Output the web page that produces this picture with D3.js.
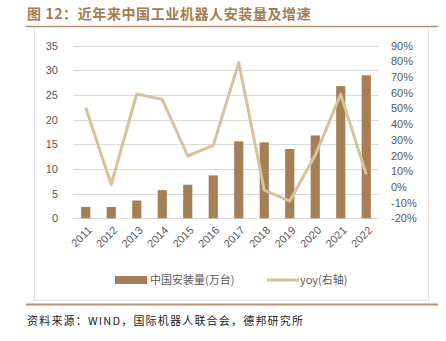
<!DOCTYPE html>
<html><head><meta charset="utf-8">
<script src="https://cdn.jsdelivr.net/npm/d3@7"></script>
<style>body{margin:0;background:#fff;}svg{display:block;}</style>
</head><body>
<svg id="c" width="446" height="341"></svg>
<script>
const years = ["2011","2012","2013","2014","2015","2016","2017","2018","2019","2020","2021","2022"];
const installs = [2.3, 2.3, 3.6, 5.7, 6.8, 8.7, 15.6, 15.4, 14.05, 16.8, 26.8, 29.0];
const yoy = [50.5, 1.6, 59.2, 55.8, 19.7, 26.5, 79.2, -2, -9, 20.3, 59, 8];
const leftTicks = [0,5,10,15,20,25,30,35];
const rightTicks = [-20,-10,0,10,20,30,40,50,60,70,80,90];
const title = "图 12：近年来中国工业机器人安装量及增速";
const source = "资料来源：WIND，国际机器人联合会，德邦研究所";
const legendLabels = ["中国安装量(万台)", "yoy(右轴)"];

const svg = d3.select("#c");
const font = "'Noto Sans CJK SC','Liberation Sans',sans-serif";
const barColor = "#a67f56", lineColor = "#d5c39b", titleColor = "#a47a50", rule = "#b59273";

// title
svg.append("text").attr("x",27).attr("y",19).attr("font-family",font).attr("font-size",14)
  .attr("font-weight","bold").attr("letter-spacing","0.6px").attr("fill",titleColor).text(title);
svg.append("line").attr("x1",26).attr("x2",438).attr("y1",26.5).attr("y2",26.5).attr("stroke",rule).attr("stroke-width",1.5);
// box
svg.append("rect").attr("x",34.5).attr("y",27.5).attr("width",394).attr("height",273).attr("fill","#fff").attr("stroke","#e2e2e2");
svg.append("line").attr("x1",26).attr("x2",438).attr("y1",304.5).attr("y2",304.5).attr("stroke",rule).attr("stroke-width",2);
svg.append("text").attr("x",27).attr("y",325).attr("font-family",font).attr("font-size",11)
  .attr("letter-spacing","1.2px").attr("fill","#222").text(source);

const x0 = 73, x1 = 379, yTop = 45.7, yBot = 218.3;
const x = d3.scaleBand().domain(years).range([x0,x1]).paddingInner(0.64).paddingOuter(0.32);
const xc = d3.scaleBand().domain(years).range([x0,x1]);
const yL = d3.scaleLinear().domain([0,35]).range([yBot,yTop]);
const yR = d3.scaleLinear().domain([-20,90]).range([yBot,yTop]);

// gridlines
svg.append("g").selectAll("line").data(leftTicks).join("line")
  .attr("x1",x0).attr("x2",x1).attr("y1",d=>Math.round(yL(d))+0.5).attr("y2",d=>Math.round(yL(d))+0.5)
  .attr("stroke","#d9d9d9").attr("stroke-width",1);

// left axis
const gl = svg.append("g").attr("transform",`translate(${x0},0)`)
  .call(d3.axisLeft(yL).tickValues(leftTicks).tickSize(0).tickPadding(15));
gl.select(".domain").remove();
gl.selectAll("text").attr("font-family","'Liberation Sans',sans-serif").attr("font-size",11).attr("fill","#595959");

// right axis
const gr = svg.append("g").attr("transform",`translate(${x1},0)`)
  .call(d3.axisRight(yR).tickValues(rightTicks).tickSize(0).tickPadding(12).tickFormat(d=>d+"%"));
gr.select(".domain").remove();
gr.selectAll("text").attr("font-family","'Liberation Sans',sans-serif").attr("font-size",11).attr("fill","#595959");

// bars
svg.append("g").selectAll("rect").data(years).join("rect")
  .attr("x",d=>x(d)).attr("width",x.bandwidth())
  .attr("y",(d,i)=>yL(installs[i])).attr("height",(d,i)=>yL(0)-yL(installs[i]))
  .attr("fill",barColor);

// line
const line = d3.line().x((d,i)=>xc(years[i])+xc.bandwidth()/2).y(d=>yR(d));
svg.append("path").datum(yoy).attr("d",line).attr("fill","none").attr("stroke",lineColor)
  .attr("stroke-width",3).attr("stroke-linejoin","round");

// x axis labels
const gx = svg.append("g").attr("transform",`translate(0,${yBot})`)
  .call(d3.axisBottom(xc).tickSize(0).tickPadding(0));
gx.select(".domain").remove();
gx.selectAll("text").attr("font-family","'Liberation Sans',sans-serif").attr("font-size",11).attr("fill","#595959")
  .attr("text-anchor","end").attr("dy","0.35em").attr("transform","translate(4,10) rotate(-45)");

// legend
const lg = svg.append("g").attr("font-family",font).attr("font-size",11).attr("fill","#595959");
lg.append("rect").attr("x",115).attr("y",276).attr("width",32).attr("height",8).attr("fill",barColor);
lg.append("text").attr("x",150).attr("y",284).text(legendLabels[0]);
lg.append("line").attr("x1",267).attr("x2",299).attr("y1",280).attr("y2",280).attr("stroke",lineColor).attr("stroke-width",3);
lg.append("text").attr("x",300).attr("y",284).text(legendLabels[1]);
</script>
</body></html>
